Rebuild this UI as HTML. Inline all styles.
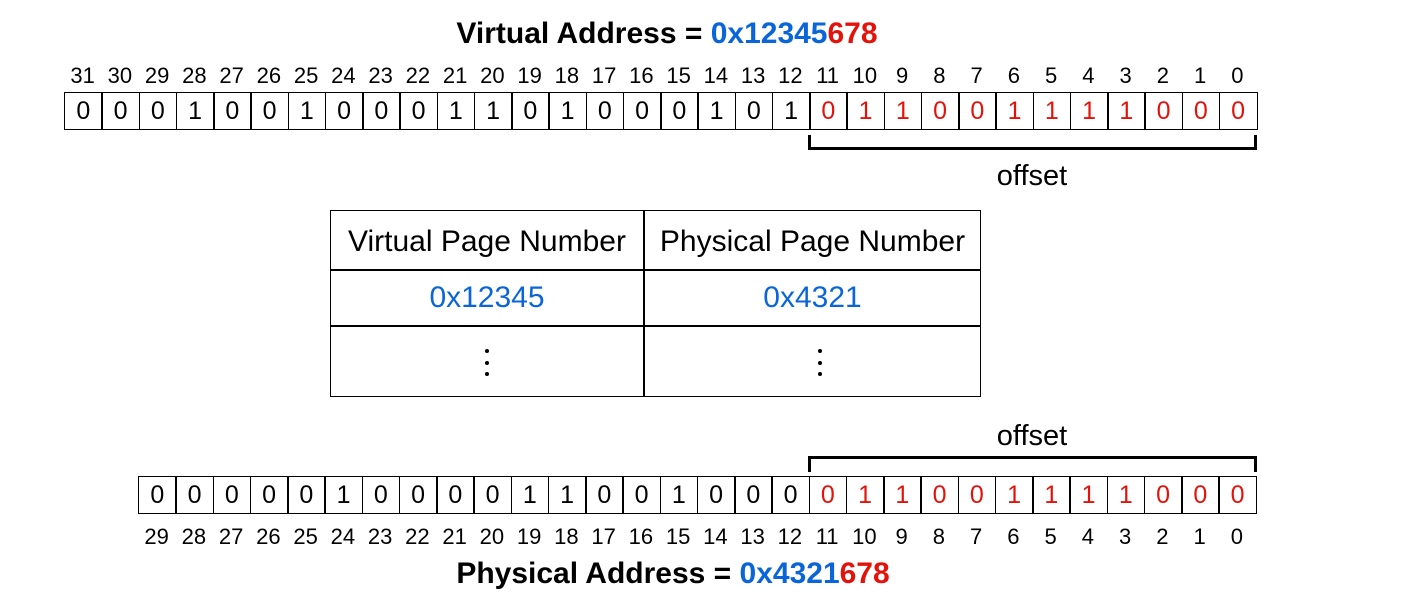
<!DOCTYPE html>
<html><head><meta charset="utf-8"><style>
body{margin:0;width:1404px;height:613px;background:#fff;position:relative;overflow:hidden;font-family:"Liberation Sans",Arial,sans-serif;color:#000}
.abs{position:absolute}
.row{position:absolute;display:flex}
.lab div{width:37.25px;text-align:center;flex:none;font-size:22px;line-height:26px}
.cells div{box-sizing:border-box;width:38.75px;flex:none;text-align:center;height:38px;border:1.5px solid #000;margin-left:-1.5px;line-height:36px;font-size:25px}
.cells div:first-child{margin-left:0}
.r{color:#e3120b}.b{color:#0a66d8}
.title{font-weight:bold;font-size:30px;width:1334px;text-align:center;line-height:32px}
.tbl{position:absolute;left:330px;top:210px;width:651px;height:187px;border:1.5px solid #000;box-sizing:border-box}
.cell{position:absolute;text-align:center;font-size:30px;line-height:34px}
.dots{position:absolute;width:4px}
.dots i{display:block;width:4px;height:4px;border-radius:2px;background:#000;margin-bottom:7.5px}
</style></head><body>
<div class="abs title" style="left:0;top:18px">Virtual Address = <span class="b">0x12345</span><span class="r">678</span></div>
<div class="row lab" style="left:64px;top:63px"><div>31</div><div>30</div><div>29</div><div>28</div><div>27</div><div>26</div><div>25</div><div>24</div><div>23</div><div>22</div><div>21</div><div>20</div><div>19</div><div>18</div><div>17</div><div>16</div><div>15</div><div>14</div><div>13</div><div>12</div><div>11</div><div>10</div><div>9</div><div>8</div><div>7</div><div>6</div><div>5</div><div>4</div><div>3</div><div>2</div><div>1</div><div>0</div></div>
<div class="row cells" style="left:64px;top:92px"><div>0</div><div>0</div><div>0</div><div>1</div><div>0</div><div>0</div><div>1</div><div>0</div><div>0</div><div>0</div><div>1</div><div>1</div><div>0</div><div>1</div><div>0</div><div>0</div><div>0</div><div>1</div><div>0</div><div>1</div><div class="r">0</div><div class="r">1</div><div class="r">1</div><div class="r">0</div><div class="r">0</div><div class="r">1</div><div class="r">1</div><div class="r">1</div><div class="r">1</div><div class="r">0</div><div class="r">0</div><div class="r">0</div></div>
<div class="abs" style="left:808px;top:135px;width:443px;height:12px;border:3px solid #000;border-top:none"></div>
<div class="abs" style="left:932px;top:160px;width:200px;text-align:center;font-size:29px;line-height:32px">offset</div>

<div class="tbl"></div>
<div class="abs" style="left:643px;top:210px;width:2px;height:187px;background:#000"></div>
<div class="abs" style="left:330px;top:269px;width:651px;height:2px;background:#000"></div>
<div class="abs" style="left:330px;top:325px;width:651px;height:2px;background:#000"></div>
<div class="cell" style="left:330px;top:225px;width:314px">Virtual Page Number</div>
<div class="cell" style="left:644px;top:225px;width:337px">Physical Page Number</div>
<div class="cell b" style="left:330px;top:281px;width:314px">0x12345</div>
<div class="cell b" style="left:644px;top:281px;width:337px">0x4321</div>
<div class="dots" style="left:485px;top:349px"><i></i><i></i><i></i></div>
<div class="dots" style="left:818px;top:349px"><i></i><i></i><i></i></div>

<div class="abs" style="left:932px;top:420px;width:200px;text-align:center;font-size:29px;line-height:32px">offset</div>
<div class="abs" style="left:808px;top:456px;width:443px;height:13px;border:3px solid #000;border-bottom:none"></div>
<div class="row cells" style="left:138px;top:476px"><div>0</div><div>0</div><div>0</div><div>0</div><div>0</div><div>1</div><div>0</div><div>0</div><div>0</div><div>0</div><div>1</div><div>1</div><div>0</div><div>0</div><div>1</div><div>0</div><div>0</div><div>0</div><div class="r">0</div><div class="r">1</div><div class="r">1</div><div class="r">0</div><div class="r">0</div><div class="r">1</div><div class="r">1</div><div class="r">1</div><div class="r">1</div><div class="r">0</div><div class="r">0</div><div class="r">0</div></div>
<div class="row lab" style="left:138px;top:524px"><div>29</div><div>28</div><div>27</div><div>26</div><div>25</div><div>24</div><div>23</div><div>22</div><div>21</div><div>20</div><div>19</div><div>18</div><div>17</div><div>16</div><div>15</div><div>14</div><div>13</div><div>12</div><div>11</div><div>10</div><div>9</div><div>8</div><div>7</div><div>6</div><div>5</div><div>4</div><div>3</div><div>2</div><div>1</div><div>0</div></div>
<div class="abs title" style="left:6px;top:558px">Physical Address = <span class="b">0x4321</span><span class="r">678</span></div>
</body></html>
